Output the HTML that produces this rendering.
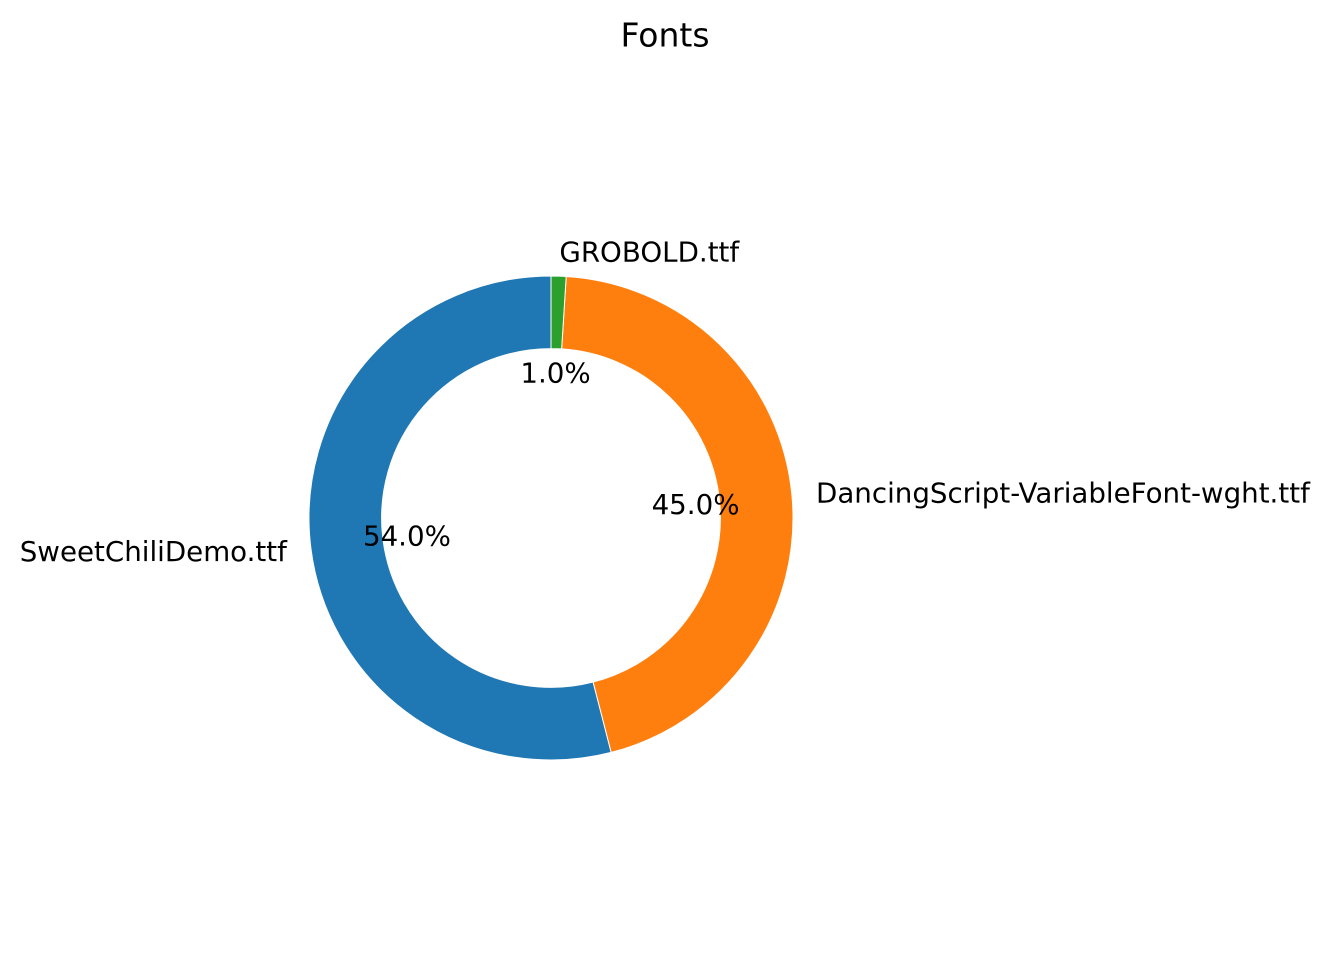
<!DOCTYPE html>
<html><head><meta charset="utf-8"><style>
html,body{margin:0;padding:0;background:#fff;}
svg text{font-family:"DejaVu Sans","Liberation Sans",sans-serif;fill:#000;}
</style></head><body>
<svg id="chart" width="1330" height="950" viewBox="0 0 1330 950" xmlns="http://www.w3.org/2000/svg">
<text x="665" y="35" text-anchor="middle" dominant-baseline="central" font-size="33">Fonts</text>
<g id="slices"></g>
<g id="labels"></g>
</svg>
<script>
const categories = ["SweetChiliDemo.ttf", "DancingScript-VariableFont-wght.ttf", "GROBOLD.ttf"];
const values = [54, 45, 1];
const colors = ["#1f77b4", "#ff7f0e", "#2ca02c"];

const cx = 551, cy = 518, R = 242, r = R * 0.7;
const total = values.reduce((a, b) => a + b, 0);
const NS = "http://www.w3.org/2000/svg";
const gS = document.getElementById("slices"), gL = document.getElementById("labels");
function pt(rad, deg) { const a = deg * Math.PI / 180; return [cx + rad * Math.cos(a), cy - rad * Math.sin(a)]; }
let start = 90;
values.forEach((v, i) => {
  const sweep = v / total * 360, end = start + sweep;
  const large = sweep > 180 ? 1 : 0;
  const [x1, y1] = pt(R, start), [x2, y2] = pt(R, end), [x3, y3] = pt(r, end), [x4, y4] = pt(r, start);
  const p = document.createElementNS(NS, "path");
  p.setAttribute("d", `M${x1},${y1} A${R},${R} 0 ${large} 0 ${x2},${y2} L${x3},${y3} A${r},${r} 0 ${large} 1 ${x4},${y4} Z`);
  p.setAttribute("fill", colors[i]);
  p.setAttribute("stroke", "#fff");
  p.setAttribute("stroke-width", "1");
  
  
  gS.appendChild(p);
  const mid = start + sweep / 2;
  const [lx, ly] = pt(R * 1.1, mid);
  const t = document.createElementNS(NS, "text");
  t.setAttribute("x", lx); t.setAttribute("y", ly);
  t.setAttribute("font-size", "27.7");
  t.setAttribute("dominant-baseline", "central");
  t.setAttribute("text-anchor", Math.cos(mid * Math.PI / 180) < 0 ? "end" : "start");
  t.textContent = categories[i];
  
  
  gL.appendChild(t);
  const [px, py] = pt(R * 0.6, mid);
  const q = document.createElementNS(NS, "text");
  q.setAttribute("x", px); q.setAttribute("y", py);
  q.setAttribute("font-size", "27.7");
  q.setAttribute("dominant-baseline", "central");
  q.setAttribute("text-anchor", "middle");
  q.textContent = (v / total * 100).toFixed(1) + "%";
  
  
  gL.appendChild(q);
  start = end;
});
</script>
</body></html>
